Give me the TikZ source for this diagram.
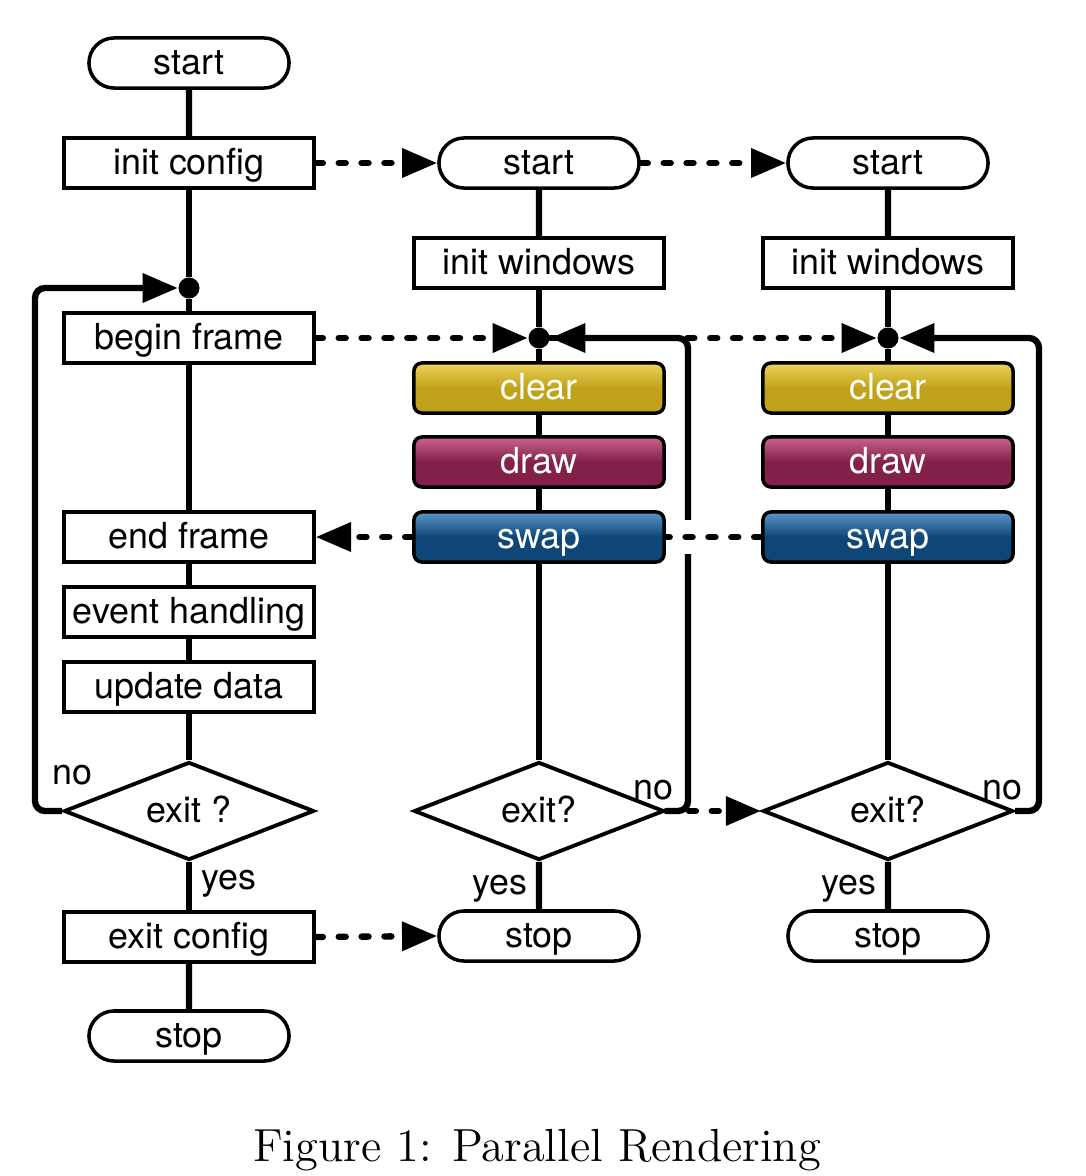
\documentclass[tikz,border=0pt]{standalone}
\usepackage{fontspec}
\newfontfamily\flowfont{TeX Gyre Heros}
\usepackage{xcolor}
\usetikzlibrary{shapes.geometric, shapes.misc, arrows.meta, backgrounds}

\definecolor{cleartop}{RGB}{236,212,92}
\definecolor{clearbase}{RGB}{192,162,26}
\definecolor{drawtop}{RGB}{202,100,140}
\definecolor{drawbase}{RGB}{130,32,74}
\definecolor{swaptop}{RGB}{90,150,200}
\definecolor{swapbase}{RGB}{15,70,120}

\begin{document}
\begin{tikzpicture}[x=0.01cm, y=-0.01cm,
    every node/.style={font=\flowfont\fontsize{10.2}{12}\selectfont, text height=9pt, text depth=2.2pt},
    box/.style={draw, line width=1pt, minimum width=2.5cm, minimum height=0.5cm, inner sep=0pt},
    term/.style={draw, line width=1pt, rounded rectangle, minimum width=2cm, minimum height=0.5cm, inner sep=0pt},
    task/.style={box, rounded corners=0.08cm, text=white, top color=#1top, bottom color=#1base, middle color=#1base},
    decision/.style={draw, line width=1.1pt, diamond, aspect=2.55, minimum width=2.5cm, minimum height=0.98cm, inner sep=0pt},
    joint/.style={circle, fill, inner sep=0pt, minimum size=0.21cm, text height=, text depth=},
    flow/.style={line width=1.8pt},
    loop/.style={flow, rounded corners=0.1cm, -{Triangle[length=10pt,width=8pt]}},
    link/.style={line width=1.8pt, line cap=round, dash pattern=on 2pt off 4.5pt, -{Triangle[length=10pt,width=8pt]}}]
    \useasboundingbox (0,0) rectangle (1085,1176);
    \node[term] (start1) at (189,63) {start};
    \node[box] (cfg) at (189,163) {init config};
    \node[joint] (dot1) at (189,288) {};
    \node[box] (begin) at (189,338) {begin frame};
    \node[box] (end) at (189,537) {end frame};
    \node[box] (event) at (189,612) {event handling};
    \node[box] (update) at (189,687) {update data};
    \node[decision] (exit1) at (189,811) {exit ?};
    \node[box] (exitcfg) at (189,937) {exit config};
    \node[term] (stop1) at (189,1036) {stop};
    \node (no1) at (72,773) {no};
    \node (yes1) at (229,878) {yes};
    \foreach \c/\x in {2/539, 3/888} {
        \node[term] (start\c) at (\x,163) {start};
        \node[box] (win\c) at (\x,263) {init windows};
        \node[joint] (dot\c) at (\x,338) {};
        \node[task=clear] (clear\c) at (\x,388) {clear};
        \node[task=draw] (draw\c) at (\x,462) {draw};
        \node[task=swap] (swap\c) at (\x,537) {swap};
        \node[decision] (exit\c) at (\x,811) {exit?};
        \node[term] (stop\c) at (\x,936) {stop};
        \node (no\c) at (\x+114,788) {no};
        \node (yes\c) at (\x-39,883) {yes};
    }
    \node[font=\rmfamily\fontsize{13.2}{15}\selectfont] (caption) at (537,1150) {Figure 1: Parallel Rendering};
    \begin{scope}[on background layer]
        \draw[link] (cfg.east) -- (start2.west);
        \draw[link] (start2.east) -- (start3.west);
        \draw[link] (begin.east) -- (dot2);
        \draw[link] (dot2) -- (dot3);
        \draw[link] (swap2.west) -- (end.east);
        \draw[link] (exit2.east) -- (exit3.west);
        \draw[link] (exitcfg.east) -- (stop2.west);
        \foreach \a/\b in {start1/cfg, cfg/dot1, dot1/begin, begin/end, end/event, event/update, update/exit1, exit1/exitcfg, exitcfg/stop1}
            \draw[flow] (\a) -- (\b);
        \foreach \c in {2,3}
            \foreach \a/\b in {start/win, win/dot, dot/clear, clear/draw, draw/swap, swap/exit, exit/stop}
                \draw[flow] (\a\c) -- (\b\c);
        \draw[loop] (exit1.west) -- ++(-27,0) |- (dot1);
        \draw[loop] (exit2.east) -- ++(22,0) |- (dot2);
        \draw[loop] (exit3.east) -- ++(24,0) |- (dot3);
        \draw[link, -, preaction={draw=white, solid, line width=0.33cm, line cap=butt}] (swap3.west) -- (swap2.east);
    \end{scope}
\end{tikzpicture}
\end{document}
